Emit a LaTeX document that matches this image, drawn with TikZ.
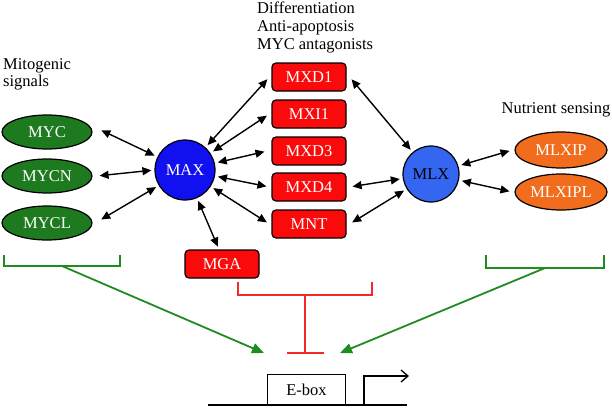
\documentclass[tikz,border=0pt]{standalone}
\usepackage{fontspec}
\setmainfont{Liberation Serif}
\usetikzlibrary{shapes.geometric,arrows.meta}
\definecolor{myg}{RGB}{30,122,30}
\definecolor{lineg}{RGB}{30,140,30}
\definecolor{maxb}{RGB}{16,16,240}
\definecolor{mlxb}{RGB}{52,102,242}
\definecolor{orng}{RGB}{242,108,30}
\definecolor{redb}{RGB}{250,10,10}
\definecolor{redl}{RGB}{245,40,40}
\tikzset{
  fs/.style={font=\fontsize{16.5}{18}\selectfont},
  ell/.style={ellipse, draw=black, line width=1.2pt, minimum width=90pt, minimum height=34pt, inner sep=0pt, text=white, fs},
  greenell/.style={ell, fill=myg},
  orangeell/.style={ell, fill=orng, minimum width=92pt, minimum height=36pt},
  redbox/.style={rectangle, rounded corners=4pt, draw=black, line width=1.2pt, fill=redb, minimum width=74pt, minimum height=28pt, inner sep=0pt, text=white, fs},
  circ/.style={circle, draw=black, line width=1.2pt, inner sep=0pt, fs},
  lbl/.style={align=left, fs, inner sep=0pt, anchor=north west},
  dbl/.style={{Triangle[length=9pt,width=8pt]}-{Triangle[length=9pt,width=8pt]}, line width=1.4pt, shorten >=3pt, shorten <=3pt},
  garr/.style={-{Triangle[length=12pt,width=10pt]}, draw=lineg, line width=1.8pt},
  gbr/.style={draw=lineg, line width=1.8pt},
  rbr/.style={draw=redl, line width=2pt},
}
\begin{document}
\begin{tikzpicture}[x=1pt,y=-1pt]
\useasboundingbox (0,0) rectangle (612,407);
% labels
\node[lbl] (mitolbl) at (3,58) {Mitogenic\\[-1pt]signals};
\node[lbl] (difflbl) at (257,1.5) {Differentiation\\Anti-apoptosis\\MYC antagonists};
\node[fs, inner sep=0pt] (nutlbl) at (556,110) {Nutrient sensing};
% left ellipses
\node[greenell] (myc) at (47,132) {MYC};
\node[greenell] (mycn) at (47,176) {MYCN};
\node[greenell] (mycl) at (47,223) {MYCL};
% MAX
\node[circ, fill=maxb, text=white, minimum size=60pt] (max) at (185,170) {MAX};
% red boxes
\node[redbox] (mxd1) at (309,77) {MXD1};
\node[redbox] (mxi1) at (309,114) {MXI1};
\node[redbox] (mxd3) at (309,151) {MXD3};
\node[redbox] (mxd4) at (309,187) {MXD4};
\node[redbox] (mnt) at (309,224) {MNT};
\node[redbox] (mga) at (222,264) {MGA};
% MLX
\node[circ, fill=mlxb, text=black, minimum size=56pt] (mlx) at (431,174) {MLX};
% orange
\node[orangeell] (mlxip) at (561,150) {MLXIP};
\node[orangeell] (mlxipl) at (561,192) {MLXIPL};
% arrows left
\draw[dbl] (myc.east) ++(6,-3) coordinate (a1) -- (max);
\draw[dbl] (mycn.east) ++(4,0) coordinate (a2) -- (max.west);
\draw[dbl] (mycl.east) ++(6,-2) coordinate (a3) -- (max);
% MAX to boxes
\draw[dbl] (max) -- ([xshift=-2pt]mxd1.west);
\draw[dbl] (max) -- ([xshift=-2pt]mxi1.west);
\draw[dbl] (max) -- ([xshift=-4pt]mxd3.west);
\draw[dbl] (max) -- ([xshift=-2pt]mxd4.west);
\draw[dbl] (max) -- ([xshift=-2pt]mnt.west);
\draw[dbl] (max) -- ([xshift=-3pt]mga.north);
% boxes to MLX
\draw[dbl] ([xshift=3pt]mxd1.east) -- (mlx);
\draw[dbl] ([xshift=3pt]mxd4.east) -- (mlx);
\draw[dbl] ([xshift=3pt]mnt.east) -- (mlx);
% MLX to orange
\draw[dbl] (mlx) -- ([xshift=-2pt]mlxip.west);
\draw[dbl] (mlx) -- ([xshift=-2pt]mlxipl.west);
% green brackets
\coordinate (lb1) at (4,255);
\coordinate (lb2) at (120,255);
\coordinate (lbm) at (62,266);
\draw[gbr] (lb1) |- (lbm) -| (lb2);
\coordinate (rb1) at (486,255);
\coordinate (rb2) at (604,255);
\coordinate (rbm) at (545,268);
\draw[gbr] (rb1) |- (rbm) -| (rb2);
\coordinate (gtipl) at (264,353);
\coordinate (gtipr) at (340,353);
\draw[garr] (lbm) -- (gtipl);
\draw[garr] (rbm) -- (gtipr);
% red T bar
\coordinate (r1) at (238,282);
\coordinate (r2) at (372,282);
\coordinate (rm) at (305,295);
\coordinate (rt) at (305,353);
\draw[rbr] (r1) |- (rm) -| (r2);
\draw[rbr] (rm) -- (rt);
\draw[rbr] (287,353) -- (324,353);
% gene
\node[draw=black, line width=0.9pt, minimum width=78pt, minimum height=30pt, inner sep=0pt, fs, anchor=south west] (ebox) at (267,405) {E-box};
\coordinate (g1) at (208,405);
\coordinate (g2) at (407,405);
\draw[line width=1.8pt] (g1) -- (g2);
\coordinate (p0) at (364,405);
\coordinate (p1) at (364,376);
\coordinate (p2) at (409,376);
\draw[line width=1.3pt, -{Straight Barb[length=7pt,width=12pt]}] (p0) -- (p1) -- (p2);
\end{tikzpicture}
\end{document}
